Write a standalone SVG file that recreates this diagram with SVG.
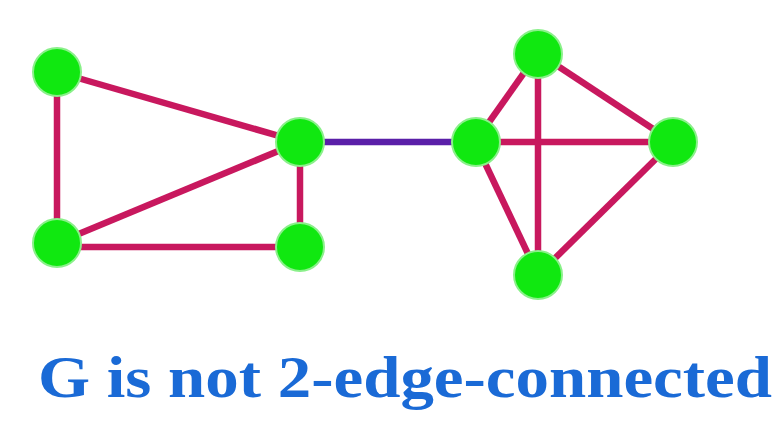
<svg xmlns="http://www.w3.org/2000/svg" width="775" height="446" viewBox="0 0 775 446">
<style>
.e{stroke:#c8185e;stroke-width:6.5;stroke-linecap:butt}
.b{stroke:#5a1fa8;stroke-width:6.5}
.n{fill:#10e810;stroke:#8af08a;stroke-width:2}
.t{font-family:"Liberation Serif",serif;font-weight:bold;font-size:60px;fill:#1a6ad6}
</style>
<rect width="775" height="446" fill="#ffffff"/>
<g id="edges">
<line class="e" x1="57" y1="72" x2="57" y2="243"/>
<line class="e" x1="57" y1="72" x2="300" y2="142"/>
<line class="e" x1="57" y1="243" x2="300" y2="142"/>
<line class="e" x1="57" y1="247" x2="300" y2="247"/>
<line class="e" x1="300" y1="142" x2="300" y2="248"/>
<line class="b" x1="300" y1="142" x2="475" y2="142"/>
<line class="e" x1="475" y1="142" x2="538" y2="53"/>
<line class="e" x1="475" y1="142" x2="673" y2="142"/>
<line class="e" x1="475" y1="142" x2="538" y2="275"/>
<line class="e" x1="538" y1="53" x2="538" y2="275"/>
<line class="e" x1="538" y1="53" x2="673" y2="142"/>
<line class="e" x1="673" y1="142" x2="538" y2="275"/>
</g>
<g id="nA"><circle class="n" cx="57" cy="72" r="24"/></g>
<g id="nB"><circle class="n" cx="57" cy="243" r="24"/></g>
<g id="nC"><circle class="n" cx="300" cy="142" r="24"/></g>
<g id="nD"><circle class="n" cx="300" cy="247" r="24"/></g>
<g id="nE"><circle class="n" cx="476" cy="142" r="24"/></g>
<g id="nF"><circle class="n" cx="538" cy="54" r="24"/></g>
<g id="nG"><circle class="n" cx="673" cy="142" r="24"/></g>
<g id="nH"><circle class="n" cx="538" cy="275" r="24"/></g>
<text class="t" x="38" y="397" textLength="734" lengthAdjust="spacingAndGlyphs">G is not 2-edge-connected</text>
</svg>
